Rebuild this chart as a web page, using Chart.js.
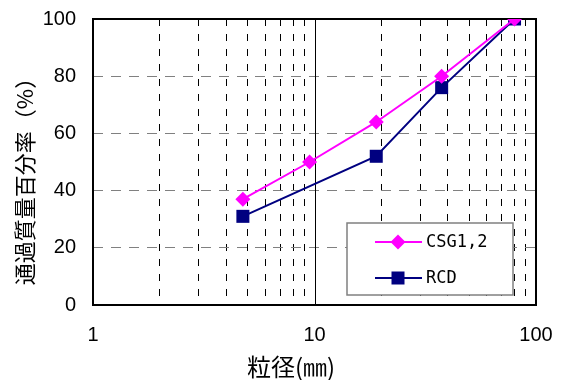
<!DOCTYPE html>
<html>
<head>
<meta charset="utf-8">
<script src="https://cdn.jsdelivr.net/npm/chart.js@4"></script>
<style>
  html, body { margin: 0; padding: 0; background: #fff; }
  #wrap { width: 562px; height: 380px; }
</style>
</head>
<body>
<div id="wrap"><canvas id="c" width="562" height="380"></canvas></div>
<script>
// Grain size distribution (passing percentage vs. sieve size)
const csgSieves = [4.75, 9.5, 19, 37.5, 80];
const csgPassing = [37, 50, 64, 80, 100];
const rcdSieves = [4.75, 19, 37.5, 80];
const rcdPassing = [31, 52, 76, 100];

const xGridValues = [1, 2, 3, 4, 5, 6, 7, 8, 9, 10, 20, 30, 40, 50, 60, 70, 80, 90, 100];
const xLabelValues = [1, 10, 100];
const yTickValues = [0, 20, 40, 60, 80, 100];

const seriesNames = ['CSG1,2', 'RCD'];
const seriesColors = ['#FF00FF', '#000080'];
const xTitle = '粒径(㎜)';
const yTitle = '通過質量百分率（%）';

const CJK = '"Noto Sans CJK JP", sans-serif';
const tickFont = { family: '"Liberation Sans", Arial, sans-serif', size: 20 };

function toPoints(xs, ys) { return xs.map((x, i) => ({ x: x, y: ys[i] })); }

function noOverflow(scale) {
  scale.paddingTop = 0; scale.paddingBottom = 0;
  scale.paddingLeft = 0; scale.paddingRight = 0;
}

function drawMarker(ctx, style, x, y, r, color) {
  ctx.fillStyle = color;
  ctx.beginPath();
  if (style === 'rectRot') {
    ctx.moveTo(x, y - r); ctx.lineTo(x + r, y); ctx.lineTo(x, y + r); ctx.lineTo(x - r, y);
  } else {
    const h = r * Math.SQRT1_2;
    ctx.rect(x - h, y - h, 2 * h, 2 * h);
  }
  ctx.closePath();
  ctx.fill();
}

// Plot frame, solid decade line, legend box and axis titles
const decorations = {
  id: 'decorations',
  beforeDatasetsDraw(chart) {
    const { ctx, chartArea: a, scales } = chart;
    ctx.save();
    ctx.strokeStyle = '#000';
    ctx.lineWidth = 1;
    const xm = Math.round(scales.x.getPixelForValue(10)) + 0.5;
    ctx.beginPath(); ctx.moveTo(xm, a.top); ctx.lineTo(xm, a.bottom); ctx.stroke();
    ctx.lineWidth = 2;
    ctx.strokeRect(a.left, a.top, a.right - a.left, a.bottom - a.top);
    ctx.restore();
  },
  afterDraw(chart) {
    const { ctx, chartArea: a } = chart;
    ctx.save();
    // legend
    const bx = a.right - 189, by = a.bottom - 82, bw = 166, bh = 72;
    ctx.fillStyle = '#fff';
    ctx.fillRect(bx, by, bw, bh);
    ctx.strokeStyle = '#808080';
    ctx.lineWidth = 1.5;
    ctx.strokeRect(bx, by, bw, bh);
    chart.data.datasets.forEach((ds, i) => {
      const cy = by + 19 + i * 36;
      ctx.strokeStyle = ds.borderColor;
      ctx.lineWidth = 2;
      ctx.beginPath(); ctx.moveTo(bx + 28, cy); ctx.lineTo(bx + 75, cy); ctx.stroke();
      drawMarker(ctx, ds.pointStyle, bx + 51, cy, ds.pointRadius, ds.pointBackgroundColor);
      ctx.fillStyle = '#000';
      ctx.font = '17px "DejaVu Sans Mono", monospace';
      ctx.textAlign = 'left';
      ctx.textBaseline = 'middle';
      ctx.fillText(ds.label, bx + 79, cy + 1);
    });
    // axis titles
    ctx.fillStyle = '#000';
    ctx.textAlign = 'center';
    ctx.textBaseline = 'middle';
    ctx.font = '24px ' + CJK;
    ctx.fillText(xTitle, 291, 367);
    ctx.font = '22px ' + CJK;
    ctx.translate(25, 176);
    ctx.rotate(-Math.PI / 2);
    ctx.fillText(yTitle, 0, 0);
    ctx.restore();
  }
};

new Chart(document.getElementById('c'), {
  type: 'line',
  data: {
    datasets: [
      {
        label: seriesNames[0],
        data: toPoints(csgSieves, csgPassing),
        borderColor: seriesColors[0],
        backgroundColor: seriesColors[0],
        pointBackgroundColor: seriesColors[0],
        pointBorderColor: seriesColors[0],
        pointStyle: 'rectRot',
        pointRadius: 7.5,
        pointBorderWidth: 0,
        borderWidth: 2,
        tension: 0
      },
      {
        label: seriesNames[1],
        data: toPoints(rcdSieves, rcdPassing),
        borderColor: seriesColors[1],
        backgroundColor: seriesColors[1],
        pointBackgroundColor: seriesColors[1],
        pointBorderColor: seriesColors[1],
        pointStyle: 'rect',
        pointRadius: 9.2,
        pointBorderWidth: 0,
        borderWidth: 2,
        tension: 0
      }
    ]
  },
  options: {
    responsive: false,
    devicePixelRatio: 1,
    animation: false,
    events: [],
    layout: { padding: { top: 19, right: 26, left: 0, bottom: 0 } },
    plugins: { legend: { display: false }, tooltip: { enabled: false } },
    scales: {
      x: {
        type: 'logarithmic',
        min: 1,
        max: 100,
        afterBuildTicks(scale) { scale.ticks = xGridValues.map(v => ({ value: v })); },
        afterFit(scale) { scale.height = 75; noOverflow(scale); },
        ticks: {
          autoSkip: false,
          maxRotation: 0,
          padding: 18,
          color: '#000',
          font: tickFont,
          callback: v => xLabelValues.includes(v) ? String(v) : ''
        },
        grid: {
          color: c => (c.tick && xLabelValues.includes(c.tick.value)) ? 'rgba(0,0,0,0)' : '#000',
          lineWidth: 1,
          drawTicks: false
        },
        border: { display: false, dash: [7, 8] }
      },
      y: {
        min: 0,
        max: 100,
        afterBuildTicks(scale) { scale.ticks = yTickValues.map(v => ({ value: v })); },
        afterFit(scale) { scale.width = 93; noOverflow(scale); },
        ticks: { padding: 17, color: '#000', font: tickFont },
        grid: { color: '#808080', lineWidth: 1, drawTicks: false },
        border: { display: false, dash: [10, 8] }
      }
    }
  },
  plugins: [decorations]
});
</script>
</body>
</html>
